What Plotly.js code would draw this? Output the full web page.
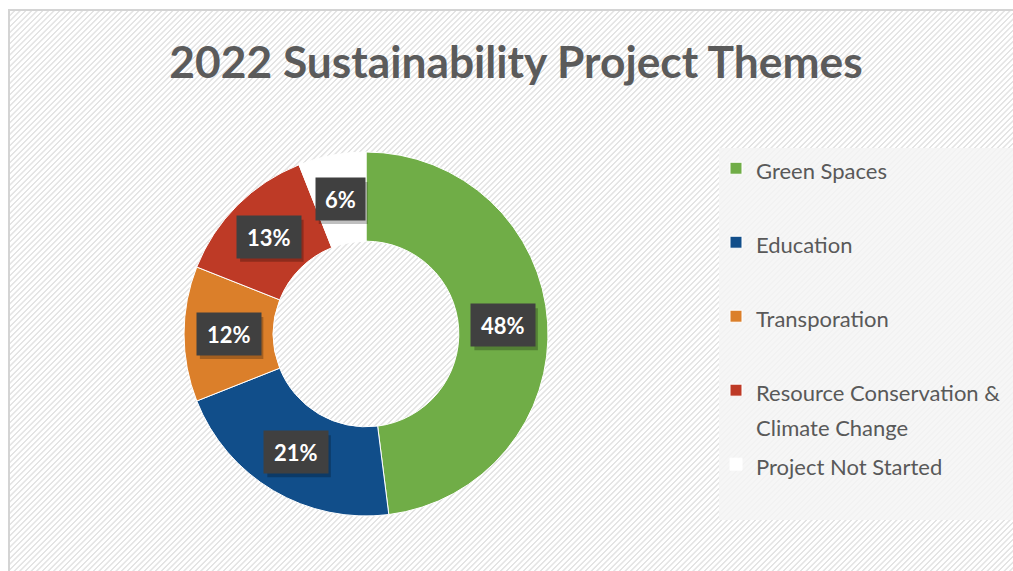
<!DOCTYPE html>
<html>
<head>
<meta charset="utf-8">
<script src="https://cdn.plot.ly/plotly-3.0.1.min.js"></script>
<style>
  html, body { margin: 0; padding: 0; background: #ffffff; }
  #wrap { position: relative; width: 1013px; height: 571px; overflow: hidden; background: #ffffff; }
  #hatch {
    position: absolute; left: 8px; top: 9px; width: 1020px; height: 580px;
    border-left: 2px solid #d4d4d4; border-top: 2px solid #d4d4d4;
    background: repeating-linear-gradient(135deg, #ffffff 0px, #ffffff 2px, #e4e4e4 2.5px, #e4e4e4 3.5px, #ffffff 4px);
  }
  #chart { position: absolute; left: 0; top: 0; width: 1013px; height: 571px; }
</style>
</head>
<body>
<div id="wrap">
  <div id="hatch"></div>
  <div id="chart"></div>
</div>
<script>
// ---- data ----
var categories = ["Green Spaces", "Education", "Transporation", "Resource Conservation & Climate Change", "Project Not Started"];
var legendNames = ["Green Spaces", "Education", "Transporation", "Resource Conservation &<br>Climate Change", "Project Not Started"];
var shares = [48, 21, 12, 13, 6];
var sliceColors = ["#70AD47", "#114E8A", "#DB7F2A", "#BE3A26", "#FFFFFF"];
var chartTitle = "2022 Sustainability Project Themes";

// ---- layout constants ----
var W = 1013, H = 571;
var cx = 366, cy = 334, R = 182, holeFrac = 0.51;
var rMid = R * (1 + holeFrac) / 2;
var SP = "\u00a0";
var legendTextSize = 22;

var total = shares.reduce(function (a, b) { return a + b; }, 0);

// pad legend entries to equal height (2 text lines each)
var legendLabels = legendNames.map(function (n) {
  var parts = n.split("<br>");
  while (parts.length < 2) parts.push(SP);
  return parts.map(function (p) {
    return '<span style="font-size:' + legendTextSize + 'px">' + p + '</span>';
  }).join("<br>");
});

var trace = {
  type: "pie",
  labels: legendLabels,
  values: shares,
  hole: holeFrac,
  sort: false,
  direction: "clockwise",
  rotation: 0,
  textinfo: "none",
  hoverinfo: "label+percent",
  marker: { colors: sliceColors, line: { color: "#ffffff", width: 1 } },
  domain: {
    x: [(cx - R) / W, (cx + R) / W],
    y: [(H - cy - R) / H, (H - cy + R) / H]
  }
};

// data labels placed at slice mid-angles (computed from values)
var annotations = [];
var shapes = [{
  type: "rect", xref: "paper", yref: "paper", layer: "below",
  x0: 719 / W, x1: 1.01, y0: 1 - 520 / H, y1: 1 - 148 / H,
  fillcolor: "rgba(245,245,245,0.85)", line: { width: 0 }
}];
var cum = 0;
shares.forEach(function (v) {
  var f = (cum + v / 2) / total;
  cum += v;
  var th = 2 * Math.PI * f;
  var px = cx + rMid * Math.sin(th);
  var py = cy - rMid * Math.cos(th);
  var txt = Math.round(v / total * 100) + "%";
  var tw = txt.length * 14.5 + 2;
  var pad = 9, th2 = 24;
  var hw = tw / 2 + pad, hh = th2 / 2 + pad;
  shapes.push({
    type: "rect", xref: "paper", yref: "paper", layer: "above",
    xsizemode: "pixel", ysizemode: "pixel",
    xanchor: px / W, yanchor: 1 - py / H,
    x0: -hw + 3, x1: hw + 3, y0: -hh - 4, y1: hh - 4,
    fillcolor: "rgba(0,0,0,0.25)", line: { width: 0 }
  });
  annotations.push({
    xref: "paper", yref: "paper", x: px / W, y: 1 - py / H,
    xanchor: "center", yanchor: "middle", showarrow: false,
    text: "<b>" + txt + "</b>",
    font: { family: "Lato", size: 22, color: "#ffffff" },
    bgcolor: "#404040", borderpad: pad, width: tw, height: th2
  });
});

var layout = {
  width: W, height: H,
  margin: { l: 0, r: 0, t: 0, b: 0 },
  paper_bgcolor: "rgba(0,0,0,0)",
  plot_bgcolor: "rgba(0,0,0,0)",
  title: {
    text: "<b>" + chartTitle + "</b>",
    x: 516 / W, xanchor: "center",
    y: 1 - 62 / H, yanchor: "middle",
    font: { family: "Lato", size: 44.3, color: "#5B5B5B" }
  },
  showlegend: true,
  legend: {
    x: 716 / W, xanchor: "left",
    y: 1 - 144 / H, yanchor: "top",
    valign: "top",
    font: { family: "Lato", size: 27.3, color: "#595959" },
    bgcolor: "rgba(0,0,0,0)",
    traceorder: "normal"
  },
  shapes: shapes,
  annotations: annotations
};

Plotly.newPlot("chart", [trace], layout, { displayModeBar: false, responsive: false });
</script>
</body>
</html>
